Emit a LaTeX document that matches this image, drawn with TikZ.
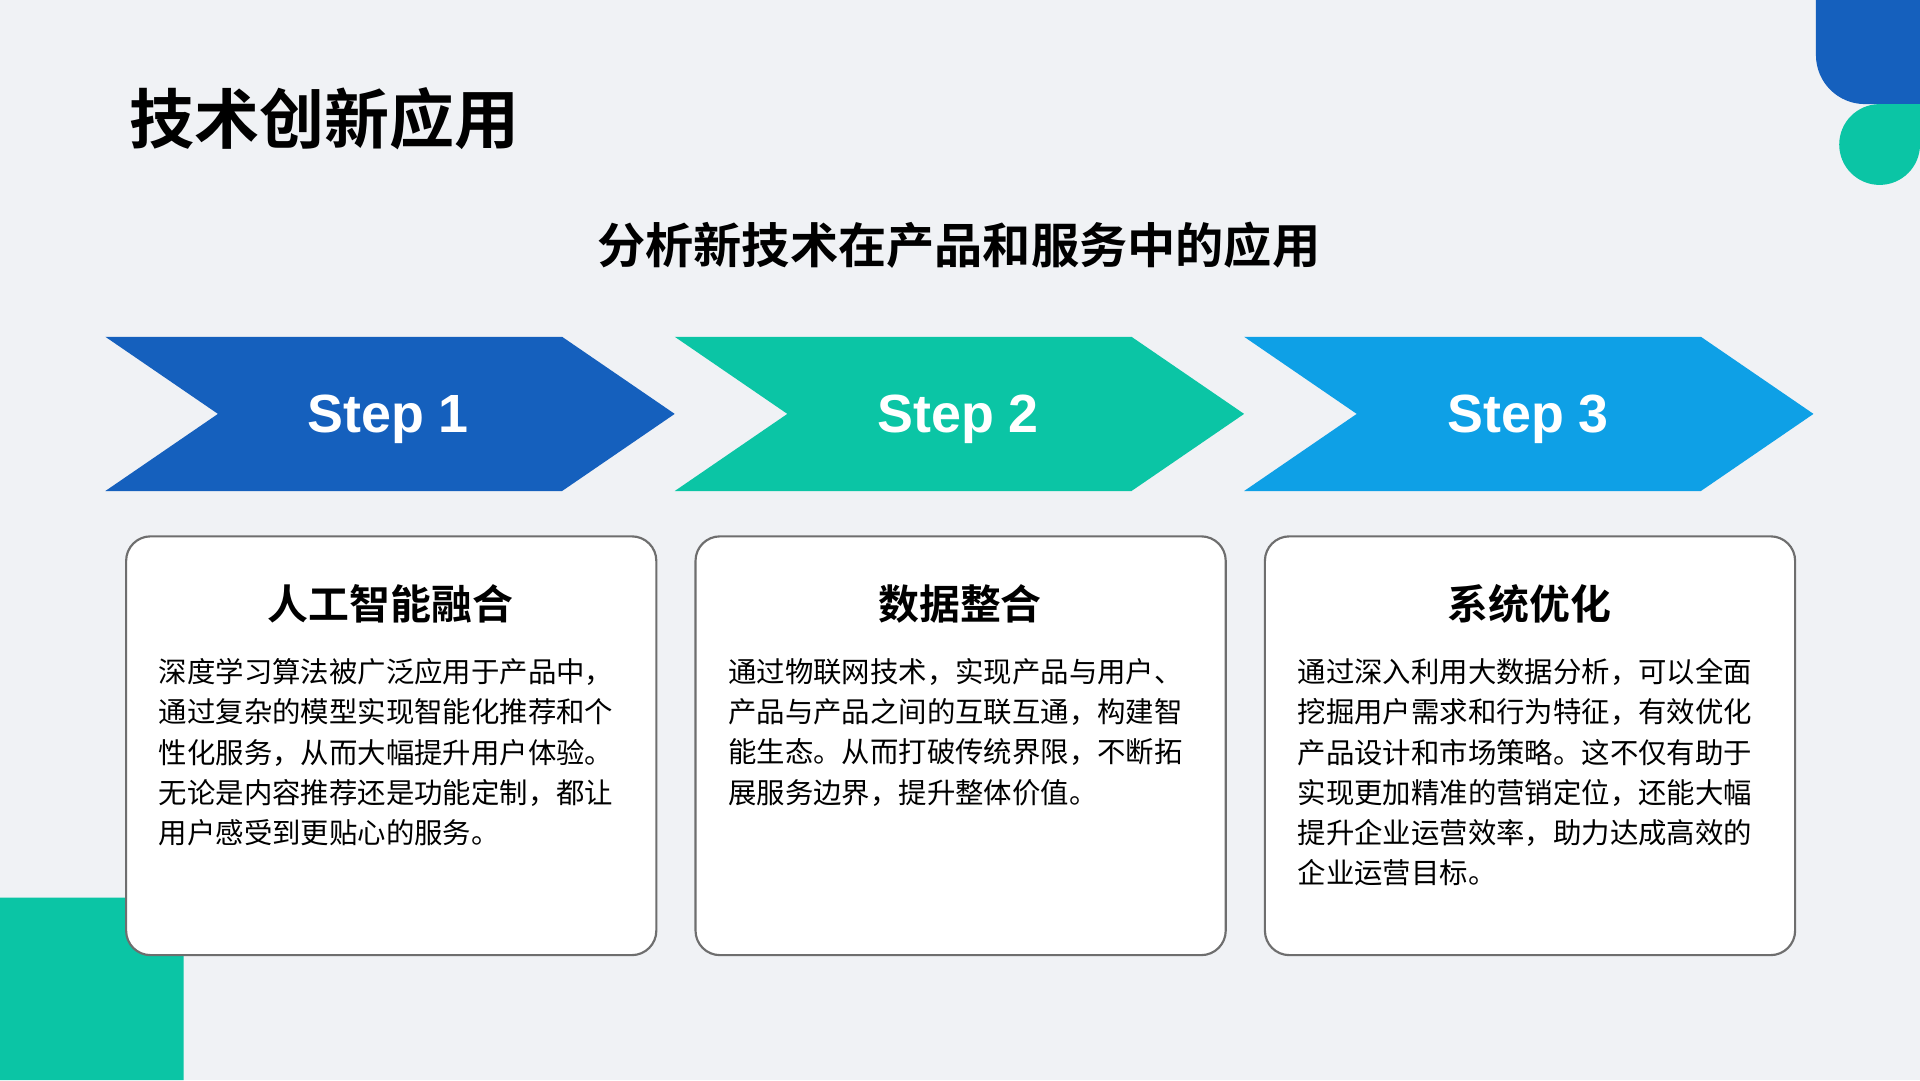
\documentclass[tikz,border=0pt]{standalone}
\usepackage{fontspec}
\setmainfont{Noto Sans CJK SC}[BoldFont={Noto Sans CJK SC Bold}]
\newfontfamily\stepfont{Liberation Sans}
\usepackage{tikz}
\definecolor{pageBack}{HTML}{F0F2F5}
\definecolor{stepBlue}{HTML}{1560BD}
\definecolor{stepGreen}{HTML}{0BC5A5}
\definecolor{stepSky}{HTML}{0EA0E6}
\definecolor{cardBorder}{HTML}{6E6E6E}
\newcommand\chevronWidth{3.73}
\newcommand\chevronTip{0.92}
\newcommand\cardWidth{4.33}
\newcommand\cardHeight{3.42}
\tikzset{
  cardbox/.style={draw=cardBorder, line width=0.5pt, fill=white, rounded corners=0.2cm},
  steptext/.style={text=white, font=\stepfont\fontsize{12.5}{14}\selectfont\bfseries},
  cardhead/.style={font=\fontsize{9.5}{11}\selectfont\bfseries, anchor=center},
  cardbody/.style={font=\fontsize{6.6}{9.35}\selectfont, align=left, anchor=north west, inner sep=0pt}
}
\begin{document}
\begin{tikzpicture}[x=1cm,y=-1cm]

    \fill[pageBack] (0,0) rectangle (15.68,8.82);
    \useasboundingbox (0,0) rectangle (15.68,8.82);

    % corner decorations
    \fill[stepBlue] (15.68,0) -- (15.68,0.85) [rounded corners=0.4cm] -- (14.83,0.85) [sharp corners] -- (14.83,0) -- cycle;
    \fill[stepGreen] (15.35,1.18) circle (0.33);
    \fill[stepGreen] (15.35,0.85) rectangle (15.68,1.18);
    \fill[stepGreen] (0,8.82) -- (0,7.33) [rounded corners=0.4cm] -- (1.50,7.33) [sharp corners] -- (1.50,8.82) -- cycle;

    \node (Title) [anchor=west, font=\fontsize{15.1}{17}\selectfont\bfseries] at (0.93,0.97) {技术创新应用};
    \node (SubTitle) [font=\fontsize{11.2}{13}\selectfont\bfseries] at (7.83,2.00) {分析新技术在产品和服务中的应用};

    % chevrons
    \foreach \i/\c in {0/stepBlue,1/stepGreen,2/stepSky}{
        \fill[\c] ({0.86+4.65*\i},2.75) -- ++(\chevronWidth,0) -- ++(\chevronTip,0.63) -- ++(-\chevronTip,0.63)
              -- ++(-\chevronWidth,0) -- ++(\chevronTip,-0.63) -- cycle;
        \node (Step_\i) [steptext] at ({3.17+4.655*\i},3.42) {Step \pgfmathparse{int(\i+1)}\pgfmathresult};
    }

    % cards
    \foreach \i in {0,1,2}{
        \draw[cardbox] ({1.03+4.65*\i},4.38) rectangle ++(\cardWidth,\cardHeight);
    }

    \node (Head_0) [cardhead] at (3.19,4.93) {人工智能融合};
    \node (Head_1) [cardhead] at (7.84,4.93) {数据整合};
    \node (Head_2) [cardhead] at (12.49,4.93) {系统优化};

    \node (Body_0) [cardbody] at (1.29,5.37) {深度学习算法被广泛应用于产品中，\\通过复杂的模型实现智能化推荐和个\\性化服务，从而大幅提升用户体验。\\无论是内容推荐还是功能定制，都让\\用户感受到更贴心的服务。};
    \node (Body_1) [cardbody] at (5.94,5.37) {通过物联网技术，实现产品与用户、\\产品与产品之间的互联互通，构建智\\能生态。从而打破传统界限，不断拓\\展服务边界，提升整体价值。};
    \node (Body_2) [cardbody] at (10.59,5.37) {通过深入利用大数据分析，可以全面\\挖掘用户需求和行为特征，有效优化\\产品设计和市场策略。这不仅有助于\\实现更加精准的营销定位，还能大幅\\提升企业运营效率，助力达成高效的\\企业运营目标。};

\end{tikzpicture}
\end{document}
